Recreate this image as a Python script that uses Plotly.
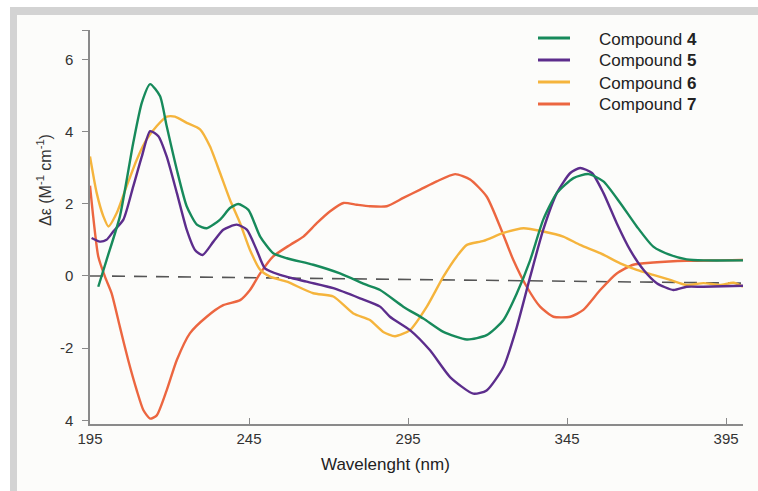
import plotly.graph_objects as go

# ---------------- data ----------------
x4 = [197.6, 200.2, 204.4, 208.6, 211.3, 213.9, 217, 219.1, 222.3, 225.4, 228.6, 231.7, 235.9, 239, 241.6,
      244.8, 248.5, 252.6, 256.9, 265.2, 273.6, 282, 286.2, 293.5, 299.8, 306.1, 313.5, 319.7, 325, 329.2,
      333.4, 337.5, 341.8, 347, 351.7, 356.4, 361.7, 366.9, 372.1, 377.4, 382.6, 387.9, 400.3]
y4 = [-0.30, 0.44, 1.65, 3.69, 4.8, 5.31, 4.98, 4.15, 2.94, 1.93, 1.42, 1.32, 1.56, 1.88, 1.99,
      1.83, 1.09, 0.63, 0.49, 0.31, 0.07, -0.25, -0.39, -0.85, -1.18, -1.55, -1.76, -1.64, -1.22, -0.48,
      0.44, 1.56, 2.30, 2.71, 2.82, 2.62, 2.02, 1.37, 0.81, 0.58, 0.46, 0.43, 0.43]

x5 = [195.5, 198.1, 200.2, 202.3, 205.5, 208.6, 211.3, 213.9, 216.5, 219.1, 222.3, 225.4, 228, 230.4, 233.8,
      236.9, 241.1, 244.3, 247.4, 250, 254.7, 263.1, 271.5, 279.9, 286.2, 289.3, 295.6, 301.9, 308.2, 315.5,
      319.7, 325, 329.2, 333.4, 337.5, 341.8, 346, 349.1, 352.8, 356.4, 360.6, 364.8, 369, 373.2, 378.4,
      382.6, 387.9, 400.3]
y5 = [1.05, 0.95, 1.0, 1.23, 1.56, 2.48, 3.31, 4.01, 3.87, 3.31, 2.30, 1.28, 0.72, 0.58, 0.95,
      1.28, 1.42, 1.28, 0.72, 0.21, 0.03, -0.16, -0.34, -0.62, -0.85, -1.13, -1.5, -2.06, -2.80, -3.26,
      -3.17, -2.52, -1.41, -0.02, 1.28, 2.30, 2.85, 2.99, 2.85, 2.30, 1.46, 0.72, 0.17, -0.2, -0.39,
      -0.3, -0.3, -0.27]

x6 = [195, 197.1, 199.2, 200.8, 203.4, 206.5, 209.7, 212.8, 216, 219.1, 221.7, 225.4, 229.6, 232.7, 235.9,
      239, 242.2, 245.3, 248.5, 251.6, 256.9, 265.2, 271.5, 277.8, 283, 287.2, 290.9, 295.6, 300.9, 306.1,
      310.3, 313.5, 318.7, 325, 331.3, 337.5, 343.8, 349.1, 355.4, 361.7, 366.9, 372.1, 377.4, 382.6, 387.9,
      393.1, 397.3, 400.3]
y6 = [3.31, 2.30, 1.65, 1.37, 1.74, 2.48, 3.22, 3.78, 4.15, 4.41, 4.41, 4.24, 4.06, 3.59, 2.85,
      2.11, 1.46, 0.72, 0.17, -0.02, -0.16, -0.48, -0.57, -1.04, -1.22, -1.55, -1.67, -1.5, -0.85, -0.02,
      0.54, 0.86, 0.97, 1.19, 1.32, 1.23, 1.09, 0.86, 0.63, 0.35, 0.17, 0.03, -0.11, -0.25, -0.2,
      -0.25, -0.19, -0.3]

x7 = [195, 196, 197.6, 199.7, 201.8, 204.4, 207, 209.7, 211.8, 213.9, 216, 219.1, 222.3, 226.4, 231.7,
      236.9, 242.2, 245.3, 248.5, 252.6, 257.9, 262.1, 266.3, 270.5, 274.7, 278.9, 283, 288.3, 293.5, 298.8,
      304, 309.8, 314.5, 319.7, 323.9, 328.1, 332.3, 336.5, 340.7, 346, 350.1, 355.4, 360.6, 365.8, 372.1,
      382.6, 393.1, 400.3]
y7 = [2.5, 1.65, 0.54, -0.02, -0.48, -1.41, -2.33, -3.17, -3.72, -3.95, -3.86, -3.17, -2.33, -1.59, -1.13,
      -0.81, -0.67, -0.39, 0.07, 0.54, 0.86, 1.09, 1.46, 1.79, 2.02, 1.97, 1.93, 1.93, 2.16, 2.39,
      2.62, 2.82, 2.67, 2.20, 1.37, 0.44, -0.3, -0.85, -1.13, -1.13, -0.94, -0.39, 0.07, 0.31, 0.37,
      0.42, 0.43, 0.44]

baseline_x = [195, 400]
baseline_y = [0.0, -0.2]

names = ["Compound <b>4</b>", "Compound <b>5</b>", "Compound <b>6</b>", "Compound <b>7</b>"]
colors = ["#178a5b", "#5c2d8c", "#f5b43c", "#ec6640"]

x_ticks = [195, 245, 295, 345, 395]
y_tickvals = [-4, -2, 0, 2, 4, 6, 6.81]
y_ticktext = ["4", "-2", "0", "2", "4", "6", ""]

# ---------------- layout geometry ----------------
W, H = 758, 491
L, R, T, B = 90, 15, 30, 67
PW, PH = W - L - R, H - T - B


def px(xp):
    return (xp - L) / PW


def py(yp):
    return (H - B - yp) / PH


FONT = "Liberation Sans, Arial, sans-serif"

fig = go.Figure()

fig.add_trace(go.Scatter(x=baseline_x, y=baseline_y, mode="lines",
                         line=dict(color="#555555", width=1.6, dash="13px,9px"),
                         showlegend=False, hoverinfo="skip"))

series = [(x4, y4), (x5, y5), (x6, y6), (x7, y7)]
order = [3, 2, 1, 0]
for i in order:
    xs, ys = series[i]
    fig.add_trace(go.Scatter(x=xs, y=ys, mode="lines", name=names[i],
                             line=dict(color=colors[i], width=2.4, shape="spline", smoothing=0.6),
                             showlegend=False))

shapes = []
annotations = []

# outer frame of the picture
shapes.append(dict(type="rect", xref="paper", yref="paper", x0=px(8), x1=px(W + 2), y0=py(7), y1=py(15),
                   fillcolor="#d3d3d3", line=dict(width=0), layer="above"))
shapes.append(dict(type="rect", xref="paper", yref="paper", x0=px(10), x1=px(17), y0=py(7), y1=py(H + 2),
                   fillcolor="#d3d3d3", line=dict(width=0), layer="above"))
shapes.append(dict(type="rect", xref="paper", yref="paper", x0=px(-2), x1=px(W + 2), y0=py(-2), y1=py(7),
                   fillcolor="#ffffff", line=dict(width=0), layer="above"))
shapes.append(dict(type="rect", xref="paper", yref="paper", x0=px(-2), x1=px(10), y0=py(-2), y1=py(H + 2),
                   fillcolor="#ffffff", line=dict(width=0), layer="above"))

# manual legend
leg_y = [38, 60, 82, 104]
for i in range(4):
    shapes.append(dict(type="line", xref="paper", yref="paper", x0=px(538), x1=px(570),
                       y0=py(leg_y[i]), y1=py(leg_y[i]), line=dict(color=colors[i], width=3)))
    annotations.append(dict(xref="paper", yref="paper", x=px(597), y=py(leg_y[i] + 1), text=names[i],
                            showarrow=False, xanchor="left", yanchor="middle",
                            font=dict(family=FONT, size=17, color="#222222")))

# axis titles
annotations.append(dict(xref="paper", yref="paper", x=px(385), y=py(464), text="Wavelenght (nm)",
                        showarrow=False, xanchor="center", yanchor="middle",
                        font=dict(family=FONT, size=17, color="#222222")))
annotations.append(dict(xref="paper", yref="paper", x=px(44), y=py(180),
                        text="Δε (M<sup>-1</sup> cm<sup>-1</sup>)", textangle=-90,
                        showarrow=False, xanchor="center", yanchor="middle",
                        font=dict(family=FONT, size=16, color="#333333")))

fig.update_layout(
    width=W, height=H,
    margin=dict(l=L, r=R, t=T, b=B, pad=0),
    paper_bgcolor="#fcfcfa",
    plot_bgcolor="#fcfcfa",
    showlegend=False,
    shapes=shapes,
    annotations=annotations,
    font=dict(family=FONT, size=15, color="#333333"),
)

fig.update_xaxes(range=[195, 400.3], tickvals=x_ticks, ticks="inside", ticklen=6, tickwidth=1.2,
                 tickcolor="#8a8a8a", showline=True, linecolor="#8a8a8a", linewidth=1.5,
                 showgrid=False, zeroline=False, ticklabelstandoff=0,
                 tickfont=dict(family=FONT, size=15, color="#333333"))
fig.update_yaxes(range=[-4.1, 6.81], tickvals=y_tickvals, ticktext=y_ticktext, ticks="outside",
                 ticklen=6, tickwidth=1.2, tickcolor="#8a8a8a", showline=True, linecolor="#8a8a8a",
                 linewidth=1.5, showgrid=False, zeroline=False, ticklabelstandoff=6,
                 tickfont=dict(family=FONT, size=15, color="#333333"))

fig.write_html("out.html")
